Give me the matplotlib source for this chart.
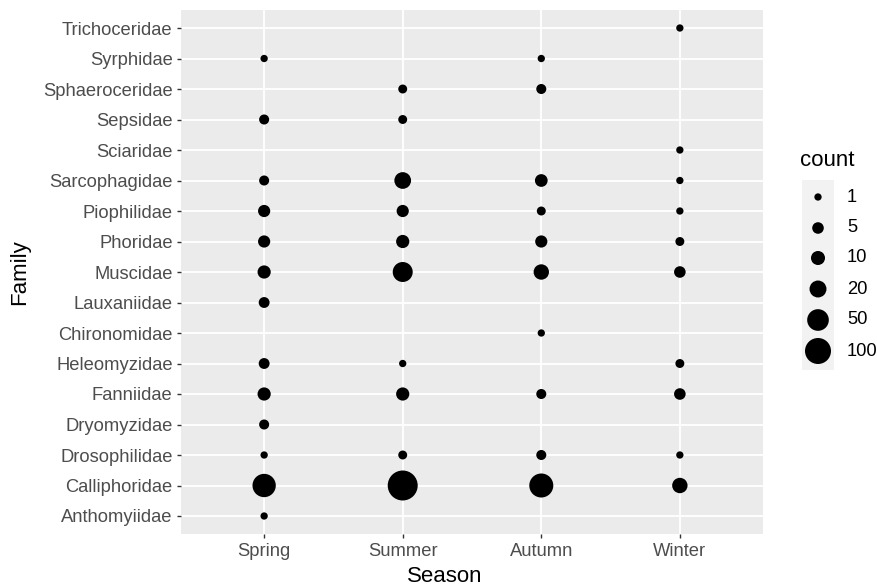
import numpy as np
import matplotlib
matplotlib.use('Agg')
import matplotlib.pyplot as plt

plt.rcParams['font.family'] = ['Liberation Sans', 'DejaVu Sans']

seasons = ['Spring', 'Summer', 'Autumn', 'Winter']
families = ['Anthomyiidae', 'Calliphoridae', 'Drosophilidae', 'Dryomyzidae',
            'Fanniidae', 'Heleomyzidae', 'Chironomidae', 'Lauxaniidae',
            'Muscidae', 'Phoridae', 'Piophilidae', 'Sarcophagidae',
            'Sciaridae', 'Sepsidae', 'Sphaeroceridae', 'Syrphidae',
            'Trichoceridae']

# counts per family (same order as families), 0 = not recorded
spring = [1, 66, 1, 3, 8, 4, 0, 4, 8, 6, 6, 3, 0, 3, 0, 1, 0]
summer = [0, 172, 2, 0, 8, 1, 0, 0, 37, 8, 6, 19, 0, 2, 2, 0, 0]
autumn = [0, 74, 3, 0, 3, 0, 1, 0, 14, 6, 2, 7, 0, 0, 3, 1, 0]
winter = [0, 14, 1, 0, 5, 2, 0, 0, 5, 2, 1, 1, 1, 0, 0, 0, 1]

legend_breaks = [1, 5, 10, 20, 50, 100]

DPI = 100


def marker_area(count):
    # diameter in pixels, then scatter area in points^2
    d = 8.65 * np.asarray(count, dtype=float) ** 0.25 - 1.35
    return (d * 72.0 / DPI) ** 2


fig = plt.figure(figsize=(8.78, 5.87), dpi=DPI)
W, H = 878, 587
left, right, top, bottom = 181, 763, 9.7, 534.3
ax = fig.add_axes([left / W, 1 - bottom / H, (right - left) / W, (bottom - top) / H])
ax.set_facecolor('#EBEBEB')
for s in ax.spines.values():
    s.set_visible(False)

ax.set_xlim(-0.6, len(seasons) - 0.4)
ax.set_ylim(-0.6, len(families) - 0.4)
ax.set_xticks(range(len(seasons)))
ax.set_xticklabels(seasons)
ax.set_yticks(range(len(families)))
ax.set_yticklabels(families)
ax.grid(True, color='white', lw=1.3)
ax.set_axisbelow(True)
ax.tick_params(axis='both', colors='#333333', length=3, width=1.0,
               labelsize=13.2, labelcolor='#4D4D4D', pad=3)

all_counts = [spring, summer, autumn, winter]
for i, counts in enumerate(all_counts):
    counts = np.array(counts)
    idx = np.nonzero(counts)[0]
    ax.scatter(np.full(len(idx), i), idx, s=marker_area(counts[idx]),
               color='black', linewidths=0, zorder=3)

fig.text(445 / W, 1 - 576 / H, 'Season', ha='center', va='center', fontsize=16)
fig.text(20 / W, 1 - 272 / H, 'Family', ha='center', va='center',
         rotation=90, fontsize=16)

# legend drawn in pixel coordinates
lax = fig.add_axes([0, 0, 1, 1], facecolor='none')
lax.set_xlim(0, W)
lax.set_ylim(H, 0)
lax.axis('off')
lax.add_patch(plt.Rectangle((802, 180), 32, 190, facecolor='#F2F2F2',
                            edgecolor='none'))
ly = [197, 228, 258, 289, 320, 351]
lax.scatter([818] * len(legend_breaks), ly, s=marker_area(legend_breaks),
            color='black', linewidths=0)
for y, b in zip(ly, legend_breaks):
    lax.text(847, y, str(b), ha='left', va='center', fontsize=13.2,
             color='black')
lax.text(800, 160, 'count', ha='left', va='center', fontsize=16)

fig.savefig('out.png', dpi=DPI)
